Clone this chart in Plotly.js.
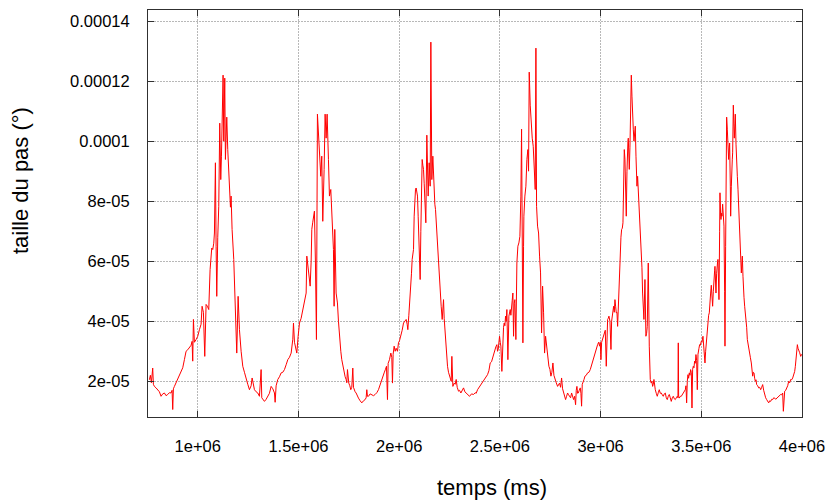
<!DOCTYPE html>
<html>
<head>
<meta charset="utf-8">
<script src="https://cdn.plot.ly/plotly-3.0.1.min.js"></script>
<style>html,body{margin:0;padding:0;background:#fff;}#chart{width:827px;height:503px;}</style>
</head>
<body>
<div id="chart"></div>
<script>
// temps (ms) and taille du pas (°), in four segments
const time1 = [759900,764800,769800,776400,779700,784700,793000,801300,809500,817800,826100,834400,842700,850900,859200,867500,872500,875800,879100,884100,892300,900600,908900,917200,925500,933700,938700,942000,950300,958600,966900,971800,975100,978500,983400,991700,1000000,1008300,1016500,1021500,1028100,1034800,1038100,1041400,1048000,1054600,1061200,1066200,1069500,1074500,1079500,1082800,1087700,1091100,1094400,1099300,1104300,1109300,1114200,1117600,1120900,1125800,1129100,1134100,1137400,1140700,1144100,1149000,1154000,1157300,1162300,1165600,1170500,1178800,1187100,1193700,1200400,1207000,1215300,1223500,1231800,1240100,1248400,1256700,1264900,1269900,1276500,1281500,1289800,1298100,1306300,1314600,1317900,1322900,1331200,1339500,1347700,1356000,1364300,1372600,1380900,1384200,1389100,1397400,1405700,1414000,1422300,1430500,1438800,1447100,1455400,1463700,1471900,1475300,1480200,1488500,1491800,1498400,1505100,1513300,1521600,1529900,1538200,1541500,1546500,1551400,1558100,1563000,1566300];
const step1 = [2.05e-5,2.2e-5,1.95e-5,2.44e-5,1.9e-5,1.83e-5,1.78e-5,1.72e-5,1.65e-5,1.5e-5,1.58e-5,1.61e-5,1.52e-5,1.56e-5,1.62e-5,1.61e-5,1.7e-5,1.06e-5,1.75e-5,1.83e-5,1.95e-5,2.06e-5,2.2e-5,2.33e-5,2.45e-5,2.72e-5,2.9e-5,3.0e-5,3.05e-5,3.11e-5,3.2e-5,3.33e-5,2.67e-5,4.06e-5,3.3e-5,3.39e-5,3.5e-5,3.72e-5,3.9e-5,4.5e-5,4.3e-5,2.83e-5,4.4e-5,4.56e-5,4.5e-5,4.39e-5,5.72e-5,6.2e-5,6.44e-5,6.39e-5,6.6e-5,6.94e-5,9.28e-5,6.5e-5,4.83e-5,6.8e-5,7.83e-5,10.6e-5,8.72e-5,9.5e-5,10.7e-5,12.2e-5,10.0e-5,12.1e-5,9.39e-5,10.2e-5,10.8e-5,9.72e-5,8.8e-5,8.17e-5,7.8e-5,8.17e-5,7.06e-5,6.06e-5,4.61e-5,2.94e-5,4.83e-5,3.72e-5,3.0e-5,2.5e-5,2.3e-5,2.06e-5,1.9e-5,1.72e-5,1.85e-5,2.11e-5,1.8e-5,1.72e-5,1.65e-5,1.61e-5,1.5e-5,2.39e-5,1.45e-5,1.39e-5,1.33e-5,1.4e-5,1.5e-5,1.6e-5,1.83e-5,1.75e-5,1.61e-5,1.3e-5,1.85e-5,2.06e-5,2.15e-5,2.28e-5,2.3e-5,2.39e-5,2.55e-5,2.72e-5,2.8e-5,2.94e-5,3.4e-5,3.94e-5,3.3e-5,3.1e-5,2.94e-5,3.5e-5,3.94e-5,4.1e-5,4.39e-5,4.6e-5,4.94e-5,6.17e-5,5.9e-5,5.72e-5,5.17e-5,6.0e-5,7.06e-5];

const time2 = [1571000,1574400,1579300,1584300,1589300,1594200,1599200,1604200,1610800,1615800,1620700,1627400,1632300,1637300,1642300,1648900,1653800,1660500,1667100,1673700,1677000,1680300,1687000,1693600,1698600,1703500,1710200,1715100,1720100,1726700,1731700,1736600,1740000,1743300,1746600,1749900,1754900,1759800,1764800,1769800,1773100,1776400,1781400,1786300,1791300,1797900,1806200,1814500,1822800,1831000,1836000,1839300,1842600,1847600,1855900,1864200,1872400,1880700,1889000,1897300,1905600,1912200,1918800,1925400,1932100,1937000,1942000,1945300,1951900,1958600,1963500,1966800,1970100,1975100,1980100,1985000,1991700,1996600,2001600,2008200,2014900,2021500,2028100,2034700,2039700,2043000,2048000,2051300,2054600,2057900,2061200,2064500,2067800,2071200,2074500,2077800,2081100,2084400,2087700,2091000,2094300,2097700,2101000,2104300,2107600,2109200,2114200,2117500,2120800,2124200,2127500,2132400,2137400,2140700,2144000,2149000,2154000,2157300,2160600,2162200,2167200,2170500,2173800,2177100,2180500,2183800,2187100,2190400,2193700,2198700,2203600,2208600,2213600,2216900,2220200,2223500,2226800,2230100,2233400,2236800,2240100,2245000,2250000,2255000,2258300,2261600,2264900,2266600,2273200,2278200,2283100,2288100,2294700,2299700,2306300,2312900,2319600,2326200,2332800,2341100,2349400,2359300,2369200,2377500];
const step2 = [7.3e-5,7.5e-5,7.67e-5,5.94e-5,3.39e-5,10.9e-5,10.3e-5,9.83e-5,8.83e-5,9.5e-5,7.33e-5,9.06e-5,10.9e-5,10.1e-5,10.9e-5,9.39e-5,8.17e-5,8.39e-5,7.06e-5,6.39e-5,4.5e-5,7.06e-5,4.94e-5,4.61e-5,4.0e-5,3.39e-5,3.0e-5,2.72e-5,2.5e-5,2.28e-5,2.15e-5,2.06e-5,1.95e-5,2.39e-5,2.0e-5,1.94e-5,1.85e-5,1.72e-5,1.8e-5,2.44e-5,1.8e-5,1.72e-5,1.65e-5,1.61e-5,1.5e-5,1.44e-5,1.35e-5,1.28e-5,1.35e-5,1.39e-5,1.45e-5,1.72e-5,1.5e-5,1.5e-5,1.58e-5,1.56e-5,1.52e-5,1.56e-5,1.62e-5,1.72e-5,1.9e-5,2.06e-5,2.15e-5,2.28e-5,2.4e-5,2.5e-5,1.39e-5,2.6e-5,2.72e-5,2.94e-5,2.8e-5,1.94e-5,2.9e-5,3.17e-5,3.0e-5,3.1e-5,3.0e-5,3.28e-5,3.35e-5,3.5e-5,3.7e-5,3.94e-5,4.0e-5,4.06e-5,3.9e-5,3.72e-5,4.2e-5,4.5e-5,4.9e-5,5.28e-5,5.6e-5,6.06e-5,6.2e-5,6.39e-5,7.5e-5,8.28e-5,8.4e-5,8.44e-5,8.3e-5,8.17e-5,7.5e-5,6.5e-5,6.0e-5,5.39e-5,7.0e-5,8.17e-5,9.39e-5,9.2e-5,9.06e-5,8.6e-5,8.17e-5,7.28e-5,10.2e-5,9.0e-5,8.17e-5,9.28e-5,8.5e-5,13.3e-5,9.2e-5,8.72e-5,9.5e-5,8.8e-5,8.06e-5,7.9e-5,7.72e-5,7.3e-5,6.94e-5,6.5e-5,6.06e-5,5.5e-5,4.94e-5,4.5e-5,4.06e-5,4.7e-5,4.72e-5,4.1e-5,3.72e-5,3.4e-5,3.06e-5,2.8e-5,2.5e-5,2.3e-5,2.17e-5,2.1e-5,2.0e-5,2.83e-5,1.95e-5,1.83e-5,1.94e-5,1.9e-5,2.06e-5,1.8e-5,1.67e-5,1.7e-5,1.61e-5,1.68e-5,1.78e-5,1.65e-5,1.61e-5,1.55e-5,1.5e-5,1.58e-5,1.56e-5,1.62e-5];

const time3 = [2382400,2389100,2397300,2405600,2413900,2422200,2430500,2438700,2445400,2452000,2458600,2463600,2468500,2475200,2480100,2485100,2488400,2491700,2495000,2498400,2501700,2505000,2509900,2514900,2518200,2521500,2524900,2528200,2531500,2534800,2539800,2544700,2548000,2551300,2554700,2558000,2561300,2564600,2567900,2571200,2574500,2579500,2584500,2589400,2594400,2599400,2604300,2607700,2611000,2614300,2617600,2619200,2624200,2629200,2634100,2639100,2642400,2645700,2650700,2655700,2660600,2665600,2670600,2675500,2678900,2682200,2687100,2692100,2697100,2702000,2707000,2712000,2717000,2721900,2726900,2733500,2738500,2743400,2748400,2753400,2758300,2763300,2768300,2773200,2779900,2786500,2791500,2796400,2801400,2806400,2811300,2816300,2821300,2826200,2831200,2836200,2841100,2846100,2851100,2856100,2861000,2866000,2871000,2875900,2879200,2882500,2885900,2889200,2894100,2899100,2902400,2905700,2909000,2912400,2917300,2922300,2928900,2935500,2942200,2948800,2955400,2962000,2968700,2975300,2980200,2985200,2990200,2995200,2998500,3001800,3005100,3008400,3013400,3018300,3023300,3028300,3031600,3034900,3038200,3041500,3046500,3051500,3054800,3058100,3061400,3064700,3068000,3071300,3074600,3078000,3081300,3084600,3087900,3091200,3094500,3097800,3101100,3104500,3107800,3111100,3114400,3117700,3121000,3122700,3126000,3127600,3131000,3132600,3135900,3137600,3140900,3142500,3145800,3147500,3150800,3152500,3155800,3157400,3160700,3162400,3165700,3167400,3170700,3172300,3175700,3177300,3180600,3183900,3187200,3190600,3193900,3197200];
const step3 = [1.6e-5,1.72e-5,1.8e-5,1.89e-5,1.95e-5,2.06e-5,2.15e-5,2.22e-5,2.35e-5,2.61e-5,2.65e-5,2.78e-5,2.9e-5,3.06e-5,3.15e-5,3.22e-5,3.0e-5,3.06e-5,3.3e-5,3.5e-5,3.3e-5,3.17e-5,2.33e-5,3.72e-5,3.8e-5,3.94e-5,3.85e-5,4.17e-5,4.0e-5,4.39e-5,2.72e-5,4.17e-5,4.3e-5,4.39e-5,4.2e-5,4.61e-5,4.7e-5,4.94e-5,3.5e-5,4.6e-5,4.72e-5,3.39e-5,5.94e-5,6.5e-5,6.61e-5,6.83e-5,8.17e-5,10.4e-5,6.0e-5,3.28e-5,6.5e-5,7.5e-5,8.17e-5,8.5e-5,9.39e-5,9.72e-5,9.0e-5,12.3e-5,11.2e-5,10.4e-5,10.1e-5,9.83e-5,9.28e-5,8.39e-5,13.1e-5,7.83e-5,7.17e-5,6.94e-5,6.17e-5,5.61e-5,3.61e-5,5.17e-5,4.28e-5,2.94e-5,3.5e-5,3.06e-5,2.8e-5,2.5e-5,2.4e-5,2.17e-5,2.3e-5,2.61e-5,2.2e-5,2.06e-5,1.95e-5,1.83e-5,1.9e-5,1.94e-5,1.8e-5,2.11e-5,1.75e-5,1.61e-5,1.5e-5,1.39e-5,1.5e-5,1.61e-5,1.55e-5,1.5e-5,1.45e-5,1.61e-5,1.5e-5,1.39e-5,1.5e-5,1.22e-5,1.7e-5,1.83e-5,1.6e-5,1.61e-5,1.7e-5,1.78e-5,1.6e-5,1.17e-5,1.9e-5,2.0e-5,2.05e-5,2.17e-5,2.2e-5,2.28e-5,2.3e-5,2.39e-5,2.55e-5,2.72e-5,2.85e-5,3.0e-5,3.1e-5,3.22e-5,3.3e-5,3.17e-5,3.3e-5,2.72e-5,3.3e-5,3.39e-5,3.5e-5,3.61e-5,3.7e-5,2.5e-5,3.9e-5,4.06e-5,4.1e-5,4.17e-5,4.0e-5,3.06e-5,4.0e-5,4.17e-5,4.3e-5,4.5e-5,4.3e-5,4.72e-5,4.5e-5,4.28e-5,4.3e-5,3.83e-5,4.6e-5,5.28e-5,6.0e-5,6.5e-5,6.8e-5,7.06e-5,7.1e-5,7.28e-5,8.5e-5,9.72e-5,9.4e-5,9.06e-5,8.0e-5,7.5e-5,9.0e-5,9.94e-5,10.0e-5,10.1e-5,9.5e-5,9.06e-5,9.8e-5,10.4e-5,11.5e-5,12.2e-5,11.5e-5,11.1e-5,10.6e-5,10.4e-5,10.0e-5,10.1e-5,10.3e-5,10.5e-5,9.5e-5,9.06e-5,8.5e-5,8.83e-5,8.4e-5,7.94e-5,7.5e-5,7.17e-5];

const time4 = [3202000,3205300,3208600,3211900,3215200,3220200,3225100,3228500,3231800,3236700,3241700,3245000,3246700,3251600,3254900,3258300,3261600,3264900,3268200,3271500,3276500,3281400,3286400,3291400,3296400,3301300,3306300,3311300,3316200,3321200,3326200,3331100,3336100,3341100,3346000,3351000,3356000,3360900,3365900,3370900,3375800,3380800,3384100,3385800,3387400,3390700,3395700,3400700,3405600,3410600,3415600,3420600,3423900,3427200,3430500,3433800,3437100,3440400,3443700,3447000,3450400,3453700,3457000,3460300,3463600,3466900,3470200,3473500,3476900,3480200,3483500,3485100,3488400,3491800,3495100,3500000,3503300,3508300,3513300,3518300,3521600,3524900,3528200,3533200,3536500,3539800,3543100,3546400,3549700,3551400,3553000,3556300,3559700,3563000,3566300,3567900,3571200,3572900,3576200,3577900,3581200,3582800,3586200,3587800,3591100,3592800,3596100,3597700,3601000,3602700,3606000,3607700,3611000,3612600,3615900,3617600,3620900,3622600,3624200,3625900,3629200,3630800,3634100,3635800,3639100,3640800,3644100,3645800,3649100,3650700,3654000,3655700,3657400,3659000,3662300,3664000,3667300,3668900,3672300,3673900,3677200,3678900,3682200,3683800,3687100,3688800,3692100,3693800,3697100,3698800,3702100,3703700,3707000,3708700,3712000,3715300,3718600,3721900,3725300,3728600,3733500,3738500,3743500,3748400,3751800,3755100,3758400,3761700,3765000,3768300,3771600,3774900,3779900,3784900,3789800,3794800,3799800,3804700,3809700,3814700,3819600,3824600,3829600,3834600,3839500,3844500,3849500,3854400,3859400,3864400,3869300,3874300,3879300,3884200,3889200,3894200,3899100,3904100,3907400,3910700,3914000,3919000,3924000,3929000,3933900,3938900,3943900,3948800,3953800,3958800,3963700,3967000,3970300,3973600,3977000,3980300,3983600,3988600,3993500,3998500];
const step4 = [6.5e-5,5.8e-5,4.94e-5,4.5e-5,4.06e-5,5.39e-5,3.5e-5,3.6e-5,3.83e-5,5.94e-5,3.17e-5,2.5e-5,2.06e-5,1.94e-5,2.0e-5,1.83e-5,1.9e-5,2.06e-5,1.8e-5,1.72e-5,1.6e-5,1.5e-5,1.62e-5,1.72e-5,1.6e-5,1.61e-5,1.55e-5,1.5e-5,1.58e-5,1.61e-5,1.45e-5,1.39e-5,1.5e-5,1.56e-5,1.45e-5,1.33e-5,1.45e-5,1.5e-5,1.42e-5,1.39e-5,1.45e-5,1.5e-5,1.45e-5,3.28e-5,1.5e-5,1.44e-5,1.5e-5,1.5e-5,1.55e-5,1.61e-5,1.65e-5,1.72e-5,1.85e-5,1.28e-5,2.0e-5,2.22e-5,2.1e-5,2.28e-5,2.2e-5,2.39e-5,2.3e-5,1.11e-5,2.4e-5,2.5e-5,2.45e-5,2.67e-5,2.6e-5,2.89e-5,2.7e-5,1.72e-5,2.9e-5,3.06e-5,3.1e-5,3.22e-5,3.2e-5,3.33e-5,3.3e-5,3.5e-5,3.17e-5,2.61e-5,3.0e-5,3.28e-5,3.6e-5,4.06e-5,4.2e-5,4.28e-5,4.5e-5,4.94e-5,5.2e-5,5.06e-5,4.8e-5,4.5e-5,5.0e-5,5.61e-5,5.7e-5,5.83e-5,5.2e-5,4.94e-5,5.6e-5,5.94e-5,6.0e-5,6.06e-5,5.4e-5,4.72e-5,7.0e-5,8.28e-5,7.5e-5,7.39e-5,7.6e-5,7.5e-5,7.9e-5,7.72e-5,7.4e-5,7.17e-5,5.0e-5,3.17e-5,6.5e-5,7.94e-5,9.5e-5,10.8e-5,10.4e-5,10.1e-5,9.7e-5,9.39e-5,9.8e-5,9.94e-5,8.5e-5,7.5e-5,8.5e-5,9.17e-5,9.4e-5,9.61e-5,10.5e-5,11.2e-5,10.5e-5,10.1e-5,10.6e-5,10.9e-5,9.9e-5,9.39e-5,9.0e-5,8.83e-5,8.4e-5,8.06e-5,7.8e-5,7.61e-5,6.9e-5,6.5e-5,6.0e-5,5.61e-5,6.0e-5,6.17e-5,5.5e-5,5.06e-5,4.8e-5,4.5e-5,4.3e-5,4.17e-5,3.8e-5,3.39e-5,3.15e-5,2.94e-5,2.8e-5,2.61e-5,2.4e-5,2.17e-5,2.3e-5,2.28e-5,2.1e-5,2.0e-5,2.05e-5,1.89e-5,1.85e-5,1.78e-5,1.8e-5,1.72e-5,1.8e-5,1.89e-5,1.7e-5,1.5e-5,1.45e-5,1.39e-5,1.35e-5,1.28e-5,1.35e-5,1.33e-5,1.4e-5,1.39e-5,1.45e-5,1.44e-5,1.4e-5,1.44e-5,1.48e-5,1.5e-5,1.52e-5,1.56e-5,1.55e-5,1.61e-5,1.0e-5,1.6e-5,1.67e-5,1.7e-5,1.78e-5,1.85e-5,2.0e-5,1.95e-5,2.06e-5,2.05e-5,2.11e-5,2.2e-5,2.33e-5,2.5e-5,2.72e-5,3.0e-5,3.22e-5,3.1e-5,3.06e-5,2.95e-5,2.83e-5,2.9e-5];

const xTickVals = [1000000,1500000,2000000,2500000,3000000,3500000,4000000];
const xTickText = ['1e+06','1.5e+06','2e+06','2.5e+06','3e+06','3.5e+06','4e+06'];
const yTickVals = [2e-5,4e-5,6e-5,8e-5,1e-4,1.2e-4,1.4e-4];
const yTickText = ['2e-05','4e-05','6e-05','8e-05','0.0001','0.00012','0.00014'];

const xs = time1.concat(time2, time3, time4);
const ys = step1.concat(step2, step3, step4);

const FONT = 'Liberation Sans, Arial, sans-serif';
const axisCommon = {
  showline: true, linecolor: '#303030', linewidth: 1, mirror: 'ticks',
  ticks: 'inside', ticklen: 6, tickcolor: '#303030', tickwidth: 1,
  showgrid: true, gridcolor: '#b8b8b8', gridwidth: 1, griddash: '2px,1px',
  zeroline: false, tickfont: {family: FONT, size: 16.5, color: '#000'}
};

const layout = {
  width: 827, height: 503,
  margin: {l: 148, r: 25, t: 10, b: 86, pad: 0},
  paper_bgcolor: '#ffffff', plot_bgcolor: '#ffffff',
  showlegend: false,
  xaxis: Object.assign({}, axisCommon, {
    range: [753000, 4000000], tickmode: 'array', tickvals: xTickVals, ticktext: xTickText,
    ticklabelstandoff: 14
  }),
  yaxis: Object.assign({}, axisCommon, {
    range: [0.81e-5, 14.37e-5], tickmode: 'array', tickvals: yTickVals, ticktext: yTickText,
    ticklabelstandoff: 14
  }),
  annotations: [
    {text: 'temps (ms)', xref: 'paper', yref: 'paper', x: 0.526, y: -0.172,
     xanchor: 'center', yanchor: 'middle', showarrow: false,
     font: {family: FONT, size: 22, color: '#000'}},
    {text: 'taille du pas (°)', xref: 'paper', yref: 'paper', x: -0.194, y: 0.58,
     xanchor: 'center', yanchor: 'middle', showarrow: false, textangle: -90,
     font: {family: FONT, size: 22, color: '#000'}}
  ]
};

Plotly.newPlot('chart', [{
  type: 'scatter', mode: 'lines', x: xs, y: ys,
  line: {color: '#ff0000', width: 1}, hoverinfo: 'skip'
}], layout, {staticPlot: true, displayModeBar: false});
</script>
</body>
</html>
